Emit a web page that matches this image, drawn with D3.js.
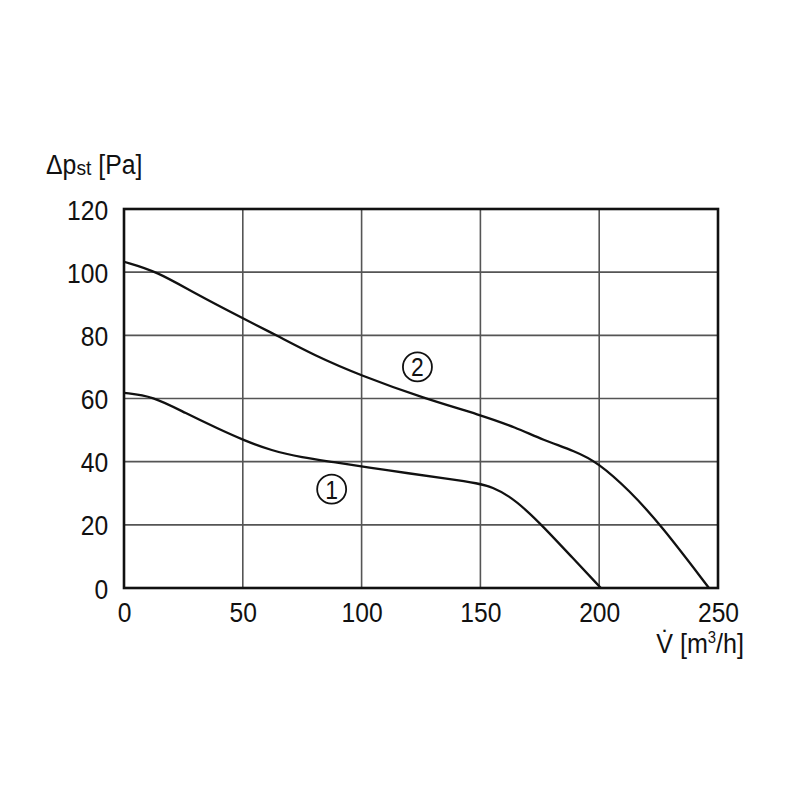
<!DOCTYPE html>
<html><head><meta charset="utf-8">
<script src="https://cdn.jsdelivr.net/npm/d3@7"></script>
<style>body{margin:0;background:#fff}svg{display:block}text{font-family:"Liberation Sans Narrow","Arial Narrow","Liberation Sans",Arial,sans-serif;fill:#111}</style>
</head><body>
<script>
const xTicks = [0, 50, 100, 150, 200, 250];
const yTicks = [0, 20, 40, 60, 80, 100, 120];
const curve1X = [0, 12, 26, 40, 50, 62, 75, 88, 103, 120, 135, 149.6, 155, 162, 169, 176, 188, 200.7];
const curve1Y = [61.8, 60.8, 55.3, 50.3, 46.9, 43.5, 41.3, 39.9, 38.1, 36.3, 34.7, 33.1, 31.9, 29.2, 24.9, 19.8, 10.2, 0];
const curve2X = [0, 13.7, 30, 50, 64.2, 80, 99.2, 126.5, 150, 165, 176.2, 190, 199.3, 212.6, 225.9, 246.2];
const curve2Y = [103.3, 100.3, 93.2, 85.4, 80, 73.7, 67.4, 60, 54.8, 50.8, 46.9, 43.3, 39.8, 31, 20, 0];
const labels = [{t:"1", x:87.4, y:31.3}, {t:"2", x:123.5, y:70}];

const W = 800, H = 800;
const m = {l:124, r:82, t:209, b:212};
const SX = 0.88;
const svg = d3.select("body").append("svg").attr("width", W).attr("height", H);
const x = d3.scaleLinear().domain([0,250]).range([m.l, W-m.r]);
const y = d3.scaleLinear().domain([0,120]).range([H-m.b, m.t]);

// grid
svg.append("g").selectAll("line").data(xTicks.slice(1,-1)).join("line")
  .attr("x1", d=>x(d)).attr("x2", d=>x(d)).attr("y1", y(0)).attr("y2", y(120))
  .attr("stroke", "#555").attr("stroke-width", 1.6);
svg.append("g").selectAll("line").data(yTicks.slice(1,-1)).join("line")
  .attr("y1", d=>y(d)).attr("y2", d=>y(d)).attr("x1", x(0)).attr("x2", x(250))
  .attr("stroke", "#555").attr("stroke-width", 1.6);
// frame
svg.append("rect").attr("x", x(0)).attr("y", y(120)).attr("width", x(250)-x(0)).attr("height", y(0)-y(120))
  .attr("fill", "none").attr("stroke", "#111").attr("stroke-width", 2.6);

// tick labels via axis generators
const xa = svg.append("g").attr("transform", `translate(0,${y(0)})`)
  .call(d3.axisBottom(x).tickValues(xTicks).tickSize(0).tickPadding(14).tickFormat(d3.format("d")));
xa.select(".domain").remove();
xa.selectAll("text").attr("font-size", 28).attr("dy", "0.71em").style("font-family", "inherit")
  .attr("transform", `scale(${SX},1)`);
const ya = svg.append("g").attr("transform", `translate(${x(0)},0)`)
  .call(d3.axisLeft(y).tickValues(yTicks).tickSize(0).tickPadding(18).tickFormat(d3.format("d")));
ya.select(".domain").remove();
ya.selectAll("text").attr("font-size", 28).attr("dy", "0.36em").style("font-family", "inherit")
  .attr("transform", `scale(${SX},1)`);

// curves
const line = d3.line().x(d=>x(d[0])).y(d=>y(d[1])).curve(d3.curveBasis);
[[curve1X, curve1Y], [curve2X, curve2Y]].forEach(([xs, ys]) => {
  svg.append("path").datum(xs.map((v,i)=>[v, ys[i]])).attr("d", line)
    .attr("fill", "none").attr("stroke", "#111").attr("stroke-width", 2.3);
});

// curve labels (circled numbers)
const lg = svg.selectAll("g.lab").data(labels).join("g").attr("class","lab")
  .attr("transform", d=>`translate(${x(d.x)},${y(d.y)})`);
lg.append("circle").attr("r", 14.5).attr("fill", "#fff").attr("stroke", "#111").attr("stroke-width", 1.8);
lg.append("text").attr("text-anchor","middle").attr("y", 9.5).attr("font-size", 26)
  .attr("transform", `scale(${SX},1)`).text(d=>d.t);

// axis titles
const yt = svg.append("text").attr("transform", `translate(46,174) scale(0.92,1)`).attr("font-size", 27);
yt.append("tspan").text("\u0394p");
yt.append("tspan").attr("font-size", 21).attr("dy", 1).text("st");
yt.append("tspan").attr("dy", -1).text(" [Pa]");
const xt = svg.append("text").attr("transform", `translate(744,653) scale(0.93,1)`).attr("text-anchor","end").attr("font-size", 27);
xt.append("tspan").text("V\u0307 [m");
xt.append("tspan").attr("font-size", 16).attr("dy", -10).text("3");
xt.append("tspan").attr("dy", 10).text("/h]");
</script>
</body></html>
